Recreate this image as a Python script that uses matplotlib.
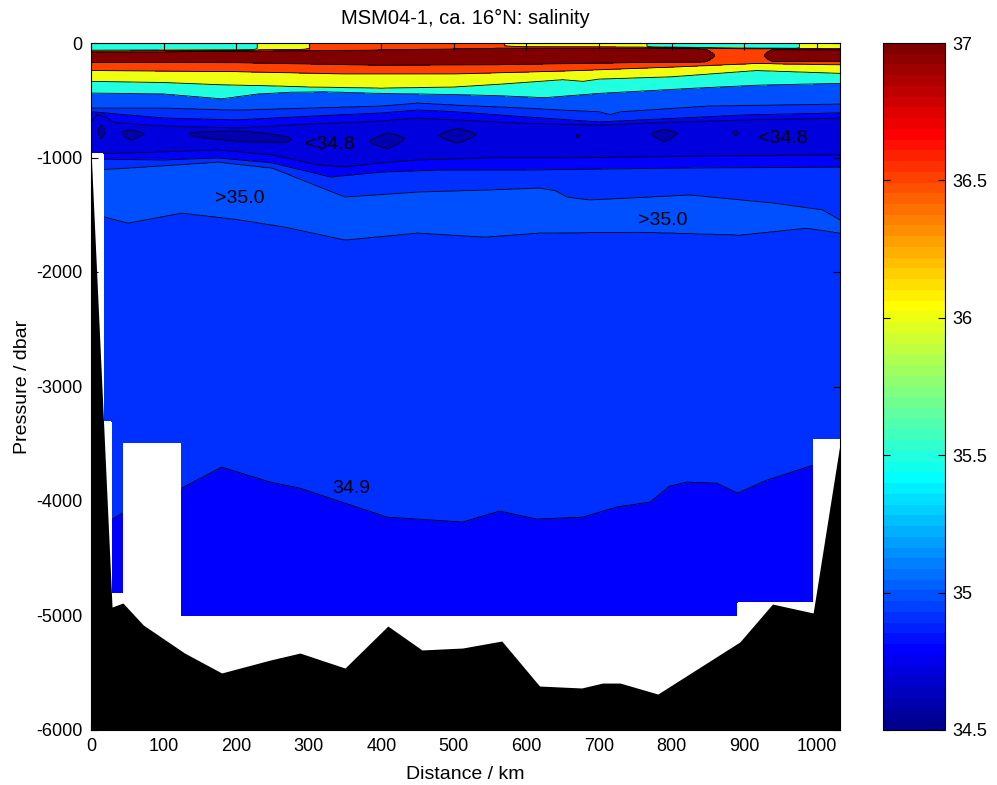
import numpy as np
import matplotlib
matplotlib.use("Agg")
import matplotlib.pyplot as plt
from matplotlib.colors import ListedColormap, Normalize
from matplotlib.cm import ScalarMappable
from matplotlib.ticker import FormatStrFormatter

plt.rcParams['font.family'] = ['Liberation Sans', 'DejaVu Sans']
plt.rcParams['axes.unicode_minus'] = False

# ---------------- data (km, dbar, salinity) ----------------
surf_km = [0, 220, 235, 290, 305, 560, 600, 760, 775, 970, 980, 1032]
surf_s = [35.7, 35.7, 36.2, 36.2, 36.6, 36.6, 36.2, 36.2, 35.7, 35.7, 36.2, 36.2]

ml_km = [0, 200, 400, 560, 770, 900, 1032]
ml_p = [58, 55, 42, 25, 30, 40, 45]
u37_km = [0, 200, 400, 560, 770, 900, 1032]
u37_p = [80, 72, 60, 45, 45, 55, 58]
s37_km = [0, 845, 862, 925, 940, 1032]
s37_v = [37.0, 37.0, 36.85, 36.85, 37.0, 37.0]
score_v = [37.25, 37.25, 36.95, 36.95, 37.25, 37.25]
core_km = [0, 200, 400, 560, 770, 900, 1032]
core_p = [120, 118, 125, 115, 110, 110, 108]
l37_km = [0, 200, 400, 560, 770, 1032]
l37_p = [170, 172, 195, 190, 170, 160]

d365_km = [0, 200, 350, 500, 650, 800, 917, 1032]
d365_p = [240, 250, 270, 270, 245, 210, 178, 190]
d360_km = [0, 100, 180, 250, 300, 400, 500, 563, 650, 678, 700, 800, 917, 1032]
d360_p = [335, 345, 365, 375, 385, 395, 385, 360, 320, 335, 315, 295, 240, 265]
d355_km = [0, 100, 180, 230, 274, 320, 400, 500, 560, 625, 700, 830, 920, 1032]
d355_p = [437, 445, 488, 445, 430, 425, 440, 450, 460, 478, 440, 395, 368, 352]
d350a_km = [0, 100, 200, 300, 400, 450, 500, 600, 650, 700, 715, 730, 850, 1032]
d350a_p = [568, 568, 585, 568, 550, 524, 541, 568, 585, 600, 625, 600, 550, 533]
d349a_km = [0, 100, 200, 300, 400, 450, 500, 600, 700, 800, 900, 1032]
d349a_p = [600, 655, 672, 640, 611, 585, 600, 646, 690, 660, 629, 611]
d348a_km = [0, 8, 20, 32, 100, 200, 300, 400, 450, 500, 600, 700, 800, 900, 1032]
d348a_p = [690, 625, 645, 695, 725, 742, 707, 680, 655, 672, 700, 716, 690, 672, 655]

min_km = [0, 8, 14, 22, 36, 55, 80, 130, 140, 200, 270, 282, 375, 409, 440,
          470, 505, 540, 665, 671, 677, 765, 790, 815, 880, 888, 896, 1032]
min_s = [34.72, 34.72, 34.64, 34.72, 34.72, 34.645, 34.72, 34.72, 34.68, 34.62,
         34.68, 34.72, 34.72, 34.64, 34.72, 34.72, 34.64, 34.72, 34.72, 34.685,
         34.72, 34.72, 34.645, 34.72, 34.72, 34.68, 34.72, 34.72]
dmin_km = [0, 14, 55, 200, 330, 409, 505, 600, 790, 888, 1032]
dmin_p = [790, 765, 790, 790, 880, 850, 790, 820, 790, 780, 800]

d348b_km = [0, 100, 175, 250, 313, 350, 400, 450, 550, 650, 750, 850, 1032]
d348b_p = [970, 952, 934, 978, 1066, 1083, 1048, 1022, 1004, 1004, 996, 987, 978]
d349b_km = [0, 100, 175, 250, 330, 400, 481, 600, 800, 1032]
d349b_p = [1013, 1022, 1004, 1048, 1170, 1127, 1109, 1109, 1092, 1083]
d350b_km = [0, 50, 175, 250, 350, 450, 543, 618, 640, 656, 687, 825, 939, 1008, 1032]
d350b_p = [1109, 1092, 1039, 1092, 1345, 1301, 1284, 1266, 1290, 1345, 1371, 1327, 1397, 1458, 1546]
dimax_km = [0, 100, 200, 300, 400, 500, 600, 700, 800, 900, 1000, 1032]
dimax_p = [1300, 1280, 1290, 1420, 1500, 1490, 1470, 1510, 1500, 1530, 1540, 1600]
d350c_km = [0, 19, 51, 125, 200, 267, 350, 450, 543, 618, 756, 894, 986, 1032]
d350c_p = [1520, 1520, 1572, 1485, 1540, 1607, 1720, 1659, 1694, 1659, 1651, 1677, 1616, 1659]
d349c_km = [0, 29, 44, 125, 180, 247, 288, 329, 408, 512, 563, 614, 678, 724,
            770, 797, 821, 862, 891, 931, 995, 1032]
d349c_p = [4160, 4160, 4100, 3886, 3703, 3834, 3887, 3974, 4140, 4183, 4087, 4157,
           4140, 4052, 4009, 3870, 3834, 3843, 3930, 3817, 3686, 3600]
deep_s = 34.87

# data coverage (deepest sampled pressure per distance range)
cover_edges_km = [0, 18, 29, 44, 125, 891, 995, 1033]
cover_p = [960, 3300, 4800, 3490, 5000, 4880, 3450]

# bathymetry
bathy_km = [0, 29, 44, 72, 129, 180, 247, 288, 350, 409, 456, 512, 566, 618,
            676, 705, 729, 781, 894, 939, 995, 1032]
bathy_p = [935, 4926, 4891, 5083, 5328, 5502, 5389, 5328, 5459, 5092, 5301, 5284,
           5223, 5616, 5633, 5590, 5590, 5686, 5231, 4900, 4978, 3500]

levels = [34.6, 34.7, 34.8, 34.9, 35.0, 35.5, 36.0, 36.5, 37.0]
cbar_ticks = [34.5, 35, 35.5, 36, 36.5, 37]
labels = [("<34.8", 329, -890), ("<34.8", 953, -832), (">35.0", 205, -1354),
          (">35.0", 788, -1546), ("34.9", 358, -3895)]

# ---------------- build gridded section ----------------
xg = np.arange(0, 1033, 1.0)
pg = np.arange(0, 6001, 5.0)


def along(k, v):
    return np.interp(xg, k, v)


zero = np.zeros_like(xg)
const = lambda c: np.full_like(xg, c)
s37 = along(s37_km, s37_v)
interfaces = [
    (zero, along(surf_km, surf_s)),
    (along(ml_km, ml_p), along(surf_km, surf_s)),
    (along(u37_km, u37_p), s37),
    (along(core_km, core_p), along(s37_km, score_v)),
    (along(l37_km, l37_p), s37),
    (along(d365_km, d365_p), const(36.5)),
    (along(d360_km, d360_p), const(36.0)),
    (along(d355_km, d355_p), const(35.5)),
    (along(d350a_km, d350a_p), const(35.0)),
    (along(d349a_km, d349a_p), const(34.9)),
    (along(d348a_km, d348a_p), const(34.8)),
    (along(dmin_km, dmin_p), along(min_km, min_s)),
    (along(d348b_km, d348b_p), const(34.8)),
    (along(d349b_km, d349b_p), const(34.9)),
    (along(d350b_km, d350b_p), const(35.0)),
    (along(dimax_km, dimax_p), const(35.05)),
    (along(d350c_km, d350c_p), const(35.0)),
    (along(d349c_km, d349c_p), const(34.9)),
    (const(6000.0), const(deep_s)),
]
D = np.array([d for d, _ in interfaces])
V = np.array([v for _, v in interfaces])
S = np.empty((pg.size, xg.size))
eps = np.arange(D.shape[0]) * 1e-3
for j in range(xg.size):
    dj = np.maximum.accumulate(D[:, j]) + eps
    S[:, j] = np.interp(pg, dj, V[:, j])

idx = np.searchsorted(cover_edges_km, xg, side='right') - 1
idx = np.clip(idx, 0, len(cover_p) - 1)
bottom = np.array(cover_p)[idx]
S[pg[:, None] > bottom[None, :]] = np.nan
S = np.ma.masked_invalid(S)


# MATLAB-like jet(64)
def matlab_jet(m=64):
    n = int(np.ceil(m / 4))
    u = np.concatenate([np.arange(1, n + 1) / n, np.ones(n - 1), np.arange(n, 0, -1) / n])
    g = int(np.ceil(n / 2)) - (1 if m % 4 == 1 else 0) + np.arange(1, len(u) + 1)
    r = g + n
    b = g - n
    cm = np.zeros((m, 3))
    for arr, ch in ((r, 0), (g, 1), (b, 2)):
        ok = (arr >= 1) & (arr <= m)
        cm[arr[ok] - 1, ch] = u[ok]
    return cm


jet = matlab_jet(64)
cmin, cmax = 34.5, 37.0


def level_color(v):
    i = int(np.floor((v - cmin) / (cmax - cmin) * 64))
    return jet[min(max(i, 0), 63)]


fill_levels = [34.0] + levels[1:] + [40.0]
band_colors = [level_color(levels[0])] + [level_color(l) for l in levels[1:]]

# ---------------- figure ----------------
W, H = 997, 785
fig = plt.figure(figsize=(W / 100, H / 100), dpi=100)
ax = fig.add_axes([91 / W, 55 / H, 749 / W, 687 / H])
cax = fig.add_axes([883 / W, 55 / H, 62 / W, 687 / H])

X, Y = np.meshgrid(xg, -pg)
ax.contourf(X, Y, S, levels=fill_levels, colors=band_colors)
ax.contour(X, Y, S, levels=levels[1:], colors='k', linewidths=0.6)
ax.fill_between(bathy_km, -np.array(bathy_p), -6000, color='k', lw=0)

for txt, x, y in labels:
    ax.text(x, y, txt, fontsize=14, ha='center', va='center', color='k')

ax.set_xlim(0, 1032)
ax.set_ylim(-6000, 0)
ax.set_xticks(np.arange(0, 1001, 100))
ax.set_yticks(np.arange(-6000, 1, 1000))
ax.tick_params(direction='in', top=True, right=True, length=5, labelsize=13, pad=6)
for s in ax.spines.values():
    s.set_linewidth(0.8)
ax.set_xlabel('Distance / km', fontsize=14, labelpad=8)
ax.set_ylabel('Pressure / dbar', fontsize=14, labelpad=4)
ax.set_title('MSM04-1, ca. 16°N: salinity', fontsize=14.5, pad=14)

sm = ScalarMappable(norm=Normalize(cmin, cmax), cmap=ListedColormap(jet))
cb = fig.colorbar(sm, cax=cax)
cb.set_ticks(cbar_ticks)
cb.ax.yaxis.set_major_formatter(FormatStrFormatter('%g'))
cb.ax.tick_params(direction='in', left=True, right=True, length=5, labelsize=13, pad=5)
cb.outline.set_linewidth(0.8)

fig.savefig('out.png', dpi=100)
